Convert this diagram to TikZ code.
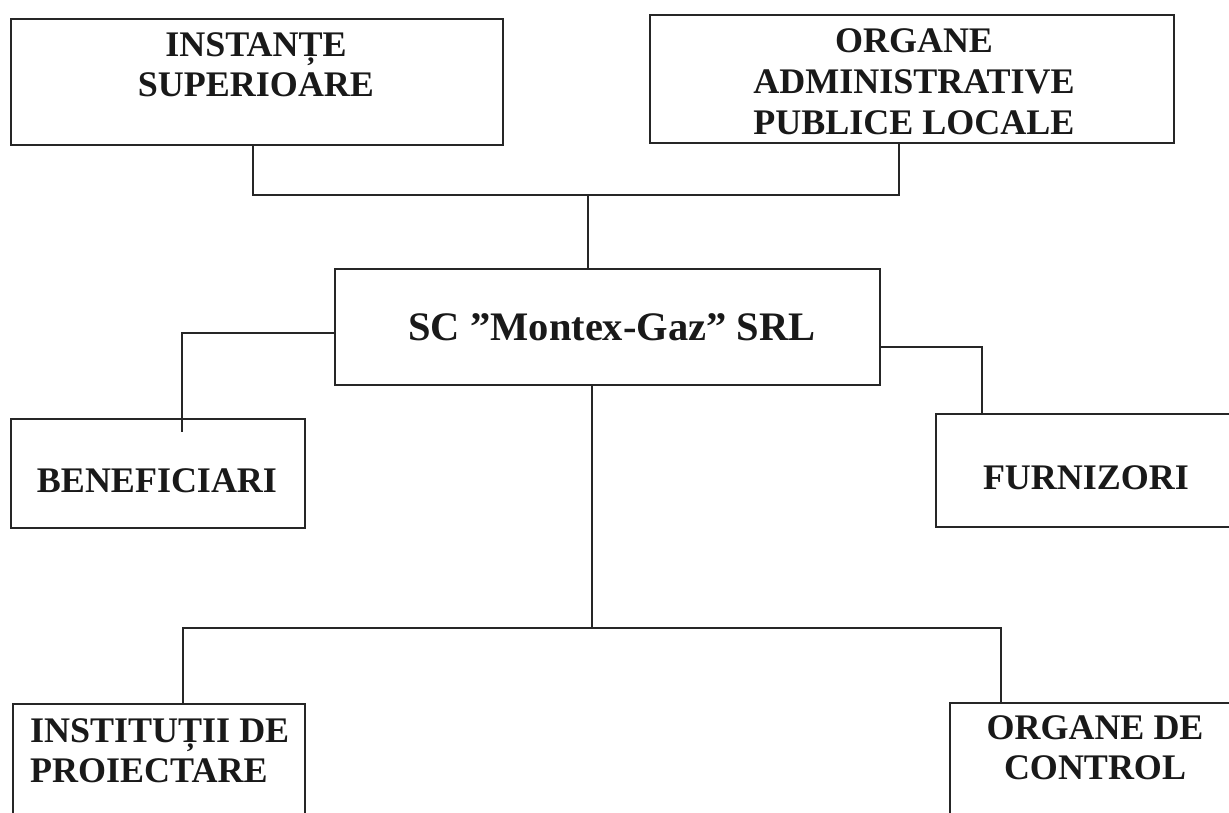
\documentclass[tikz,border=0pt]{standalone}
\usepackage{fontspec}
\setmainfont{Liberation Serif}
\begin{document}
\begin{tikzpicture}[x=1pt,y=-1pt,
  box/.style={draw=black!85,line width=1.5pt,rectangle,inner sep=0pt},
  lbl/.style={inner sep=0pt,align=center,text=black!90,font=\fontsize{36}{40}\selectfont\bfseries},
  big/.style={inner sep=0pt,text=black!90,font=\fontsize{40.5}{46}\selectfont\bfseries},
  wire/.style={draw=black!85,line width=1.5pt}]
\useasboundingbox (0,0) rectangle (1229,812);
% boxes
\node[box,anchor=north west,minimum width=492pt,minimum height=126pt] (inst) at (10,18) {};
\node[box,anchor=north west,minimum width=524pt,minimum height=128pt] (adm) at (649,14) {};
\node[box,anchor=north west,minimum width=545pt,minimum height=116pt] (sc) at (334,268) {};
\node[box,anchor=north west,minimum width=294pt,minimum height=109pt] (ben) at (10,418) {};
\node[box,anchor=north west,minimum width=300pt,minimum height=113pt] (fur) at (935,413) {};
\node[box,anchor=north west,minimum width=292pt,minimum height=130pt] (proi) at (12,703) {};
\node[box,anchor=north west,minimum width=290pt,minimum height=130pt] (ctrl) at (949,702) {};
% labels
\node[lbl,anchor=north] (tinst) at (256,32) {INSTANȚE\\SUPERIOARE};
\node[lbl,anchor=north,font=\fontsize{36}{41}\selectfont\bfseries] (tadm) at (914,28) {ORGANE\\ADMINISTRATIVE\\PUBLICE LOCALE};
\node[big,anchor=north] (tsc) at (612,313) {SC ”Montex-Gaz” SRL};
\node[lbl,anchor=north] (tben) at (157,468) {BENEFICIARI};
\node[lbl,anchor=north] (tfur) at (1086,465) {FURNIZORI};
\node[lbl,anchor=north west,align=left] (tproi) at (30,718) {INSTITUȚII DE\\PROIECTARE};
\node[lbl,anchor=north] (tctrl) at (1095,715) {ORGANE DE\\CONTROL};
% junction points
\coordinate (jtop) at (588,195);
\coordinate (jbot) at (592,628);
\coordinate (benend) at (182,432);
% connectors
\draw[wire] (inst.south -| 253,0) |- (jtop) -| (adm.south -| 899,0);
\draw[wire] (jtop) -- (jtop |- sc.north);
\draw[wire] (sc.west |- 0,333) -| (benend);
\draw[wire] (sc.east |- 0,347) -| (fur.north -| 982,0);
\draw[wire] (sc.south -| jbot) -- (jbot);
\draw[wire] (proi.north -| 183,0) |- (jbot) -| (ctrl.north -| 1001,0);
\end{tikzpicture}
\end{document}
